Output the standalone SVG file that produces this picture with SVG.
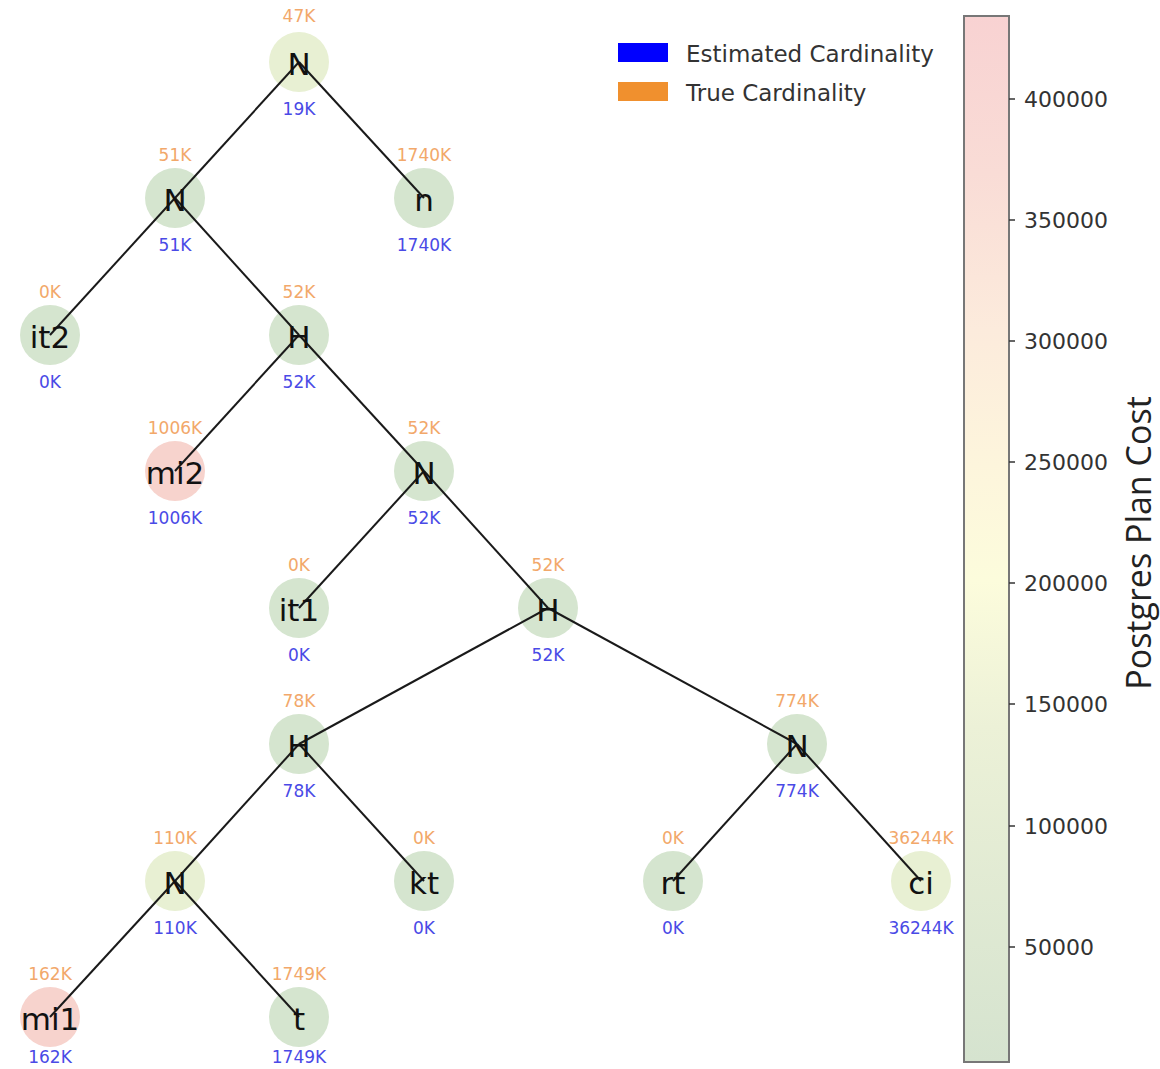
<svg xmlns="http://www.w3.org/2000/svg" width="1160" height="1069" viewBox="0 0 1160 1069">
<defs>
<linearGradient id="cbar" x1="0" y1="0" x2="0" y2="1">
<stop offset="0" stop-color="#f8d2d2"/>
<stop offset="0.15" stop-color="#f9dcd6"/>
<stop offset="0.3" stop-color="#fcebdc"/>
<stop offset="0.43" stop-color="#fdf5dc"/>
<stop offset="0.54" stop-color="#fcfcdc"/>
<stop offset="0.68" stop-color="#ecf1d7"/>
<stop offset="1" stop-color="#d5e3cf"/>
</linearGradient>
<style>
.c{stroke:none}
.g{fill:#d5e5cf}
.y{fill:#e8f0d3}
.p{fill:#f7d3cd}
.lbl{font-family:"DejaVu Sans",sans-serif;font-size:31px;fill:#111;text-anchor:middle}
.tc{font-family:"DejaVu Sans",sans-serif;font-size:17px;fill:#f2a86a;text-anchor:middle}
.ec{font-family:"DejaVu Sans",sans-serif;font-size:17px;fill:#4a4ae6;text-anchor:middle}
.edge{stroke:#1a1a1a;stroke-width:2;fill:none}
.tick{font-family:"DejaVu Sans",sans-serif;font-size:22px;fill:#333}
.leg{font-family:"DejaVu Sans",sans-serif;font-size:23px;fill:#333}
</style>
</defs>
<rect width="1160" height="1069" fill="#fff"/>

<g id="circles">
<circle class="c y" cx="299" cy="62" r="30"/>
<circle class="c g" cx="175" cy="198" r="30"/>
<circle class="c g" cx="424" cy="198" r="30"/>
<circle class="c g" cx="50" cy="335" r="30"/>
<circle class="c g" cx="299" cy="335" r="30"/>
<circle class="c p" cx="175" cy="471" r="30"/>
<circle class="c g" cx="424" cy="471" r="30"/>
<circle class="c g" cx="299" cy="608" r="30"/>
<circle class="c g" cx="548" cy="608" r="30"/>
<circle class="c g" cx="299" cy="744" r="30"/>
<circle class="c g" cx="797" cy="744" r="30"/>
<circle class="c y" cx="175" cy="881" r="30"/>
<circle class="c g" cx="424" cy="881" r="30"/>
<circle class="c g" cx="673" cy="881" r="30"/>
<circle class="c y" cx="921" cy="881" r="30"/>
<circle class="c p" cx="50" cy="1017" r="30"/>
<circle class="c g" cx="299" cy="1017" r="30"/>
</g>

<g id="connectors">
<line class="edge" x1="299" y1="62" x2="175" y2="198"/>
<line class="edge" x1="299" y1="62" x2="424" y2="198"/>
<line class="edge" x1="175" y1="198" x2="50" y2="335"/>
<line class="edge" x1="175" y1="198" x2="299" y2="335"/>
<line class="edge" x1="299" y1="335" x2="175" y2="471"/>
<line class="edge" x1="299" y1="335" x2="424" y2="471"/>
<line class="edge" x1="424" y1="471" x2="299" y2="608"/>
<line class="edge" x1="424" y1="471" x2="548" y2="608"/>
<line class="edge" x1="548" y1="608" x2="299" y2="744"/>
<line class="edge" x1="548" y1="608" x2="797" y2="744"/>
<line class="edge" x1="299" y1="744" x2="175" y2="881"/>
<line class="edge" x1="299" y1="744" x2="424" y2="881"/>
<line class="edge" x1="797" y1="744" x2="673" y2="881"/>
<line class="edge" x1="797" y1="744" x2="921" y2="881"/>
<line class="edge" x1="175" y1="881" x2="50" y2="1017"/>
<line class="edge" x1="175" y1="881" x2="299" y2="1017"/>
</g>

<g id="node-root"><text class="tc" x="299" y="22">47K</text><text class="lbl" x="299" y="75">N</text><text class="ec" x="299" y="115">19K</text></g>
<g id="node-n1"><text class="tc" x="175" y="161">51K</text><text class="lbl" x="175" y="211">N</text><text class="ec" x="175" y="251">51K</text></g>
<g id="node-n"><text class="tc" x="424" y="161">1740K</text><text class="lbl" x="424" y="211">n</text><text class="ec" x="424" y="251">1740K</text></g>
<g id="node-it2"><text class="tc" x="50" y="298">0K</text><text class="lbl" x="50" y="348">it2</text><text class="ec" x="50" y="388">0K</text></g>
<g id="node-h1"><text class="tc" x="299" y="298">52K</text><text class="lbl" x="299" y="348">H</text><text class="ec" x="299" y="388">52K</text></g>
<g id="node-mi2"><text class="tc" x="175" y="434">1006K</text><text class="lbl" x="175" y="484">mi2</text><text class="ec" x="175" y="524">1006K</text></g>
<g id="node-n2"><text class="tc" x="424" y="434">52K</text><text class="lbl" x="424" y="484">N</text><text class="ec" x="424" y="524">52K</text></g>
<g id="node-it1"><text class="tc" x="299" y="571">0K</text><text class="lbl" x="299" y="621">it1</text><text class="ec" x="299" y="661">0K</text></g>
<g id="node-h2"><text class="tc" x="548" y="571">52K</text><text class="lbl" x="548" y="621">H</text><text class="ec" x="548" y="661">52K</text></g>
<g id="node-h3"><text class="tc" x="299" y="707">78K</text><text class="lbl" x="299" y="757">H</text><text class="ec" x="299" y="797">78K</text></g>
<g id="node-n3"><text class="tc" x="797" y="707">774K</text><text class="lbl" x="797" y="757">N</text><text class="ec" x="797" y="797">774K</text></g>
<g id="node-n4"><text class="tc" x="175" y="844">110K</text><text class="lbl" x="175" y="894">N</text><text class="ec" x="175" y="934">110K</text></g>
<g id="node-kt"><text class="tc" x="424" y="844">0K</text><text class="lbl" x="424" y="894">kt</text><text class="ec" x="424" y="934">0K</text></g>
<g id="node-rt"><text class="tc" x="673" y="844">0K</text><text class="lbl" x="673" y="894">rt</text><text class="ec" x="673" y="934">0K</text></g>
<g id="node-ci"><text class="tc" x="921" y="844">36244K</text><text class="lbl" x="921" y="894">ci</text><text class="ec" x="921" y="934">36244K</text></g>
<g id="node-mi1"><text class="tc" x="50" y="980">162K</text><text class="lbl" x="50" y="1030">mi1</text><text class="ec" x="50" y="1063">162K</text></g>
<g id="node-t"><text class="tc" x="299" y="980">1749K</text><text class="lbl" x="299" y="1030">t</text><text class="ec" x="299" y="1063">1749K</text></g>

<g id="legend">
<rect x="618" y="43" width="50" height="19" fill="#0000ff"/>
<text class="leg" x="686" y="62">Estimated Cardinality</text>
<rect x="618" y="82" width="50" height="19" fill="#f0902e"/>
<text class="leg" x="686" y="101">True Cardinality</text>
</g>

<g id="colorbar">
<rect x="964" y="16" width="45" height="1046" fill="url(#cbar)" stroke="#777" stroke-width="2"/>
<g stroke="#333" stroke-width="1.5">
<line x1="1009" y1="99" x2="1015" y2="99"/>
<line x1="1009" y1="220" x2="1015" y2="220"/>
<line x1="1009" y1="341" x2="1015" y2="341"/>
<line x1="1009" y1="462" x2="1015" y2="462"/>
<line x1="1009" y1="583" x2="1015" y2="583"/>
<line x1="1009" y1="704" x2="1015" y2="704"/>
<line x1="1009" y1="826" x2="1015" y2="826"/>
<line x1="1009" y1="947" x2="1015" y2="947"/>
</g>
<text class="tick" x="1024" y="107">400000</text>
<text class="tick" x="1024" y="228">350000</text>
<text class="tick" x="1024" y="349">300000</text>
<text class="tick" x="1024" y="470">250000</text>
<text class="tick" x="1024" y="591">200000</text>
<text class="tick" x="1024" y="712">150000</text>
<text class="tick" x="1024" y="834">100000</text>
<text class="tick" x="1024" y="955">50000</text>
<text x="1151" y="543" transform="rotate(-90 1151 543)" text-anchor="middle" font-family="'Open Sans','DejaVu Sans',sans-serif" font-size="34" fill="#222">Postgres Plan Cost</text>
</g>
</svg>
